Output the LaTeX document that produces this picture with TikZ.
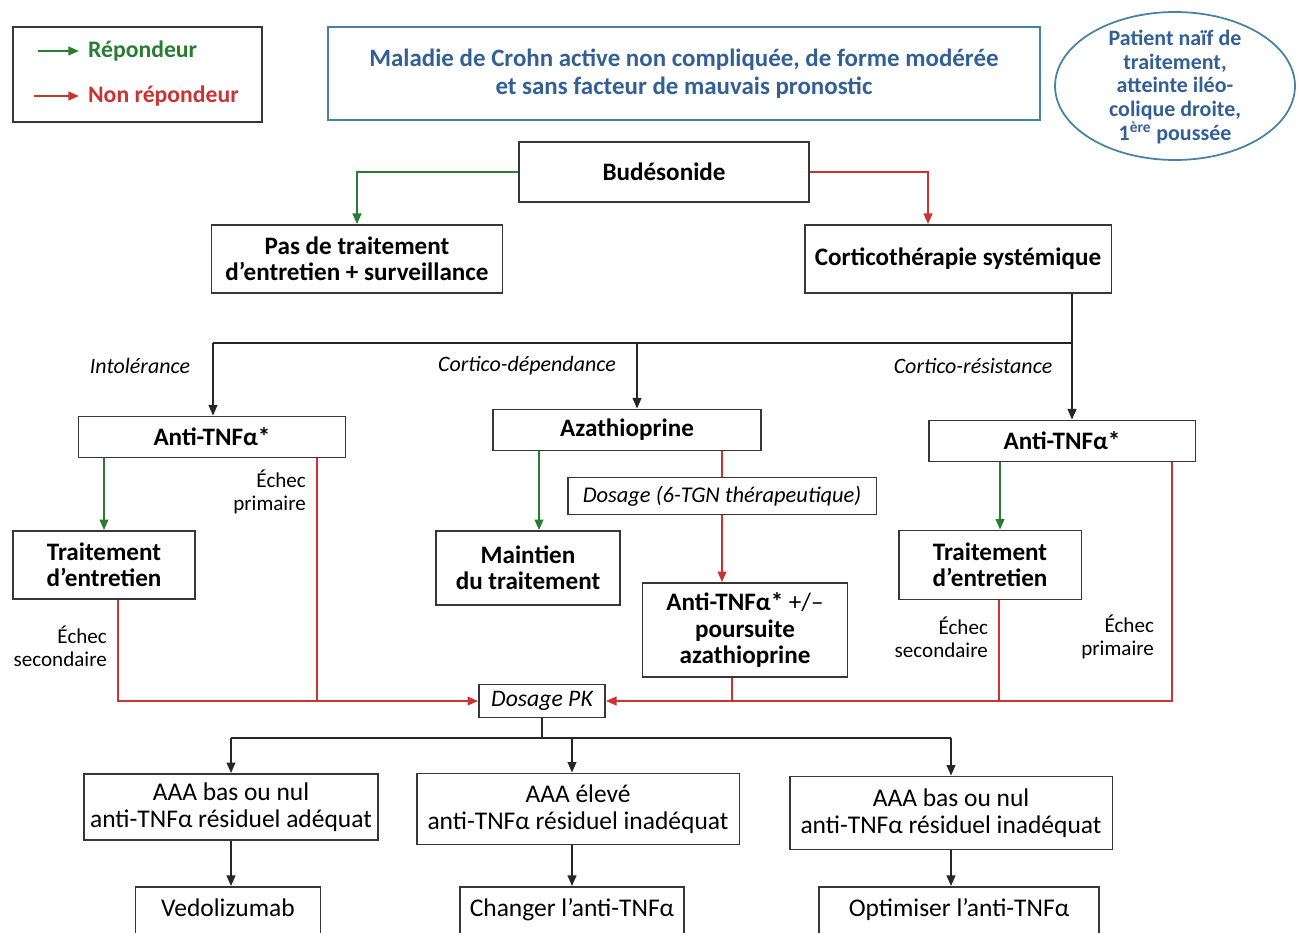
\documentclass[tikz,border=0pt]{standalone}
\usepackage{fontspec}
\setmainfont{Carlito}
\usetikzlibrary{arrows.meta, positioning, calc}
\definecolor{crohnblue}{RGB}{50, 95, 150}
\definecolor{frameblue}{RGB}{70, 130, 165}
\definecolor{repgreen}{RGB}{40, 125, 50}
\definecolor{nonred}{RGB}{205, 50, 50}
\definecolor{boxgray}{RGB}{55, 55, 55}

\begin{document}
\begin{tikzpicture}[x=0.02cm, y=-0.02cm,
  box/.style={draw=boxgray, line width=1.1pt, align=center, inner sep=1pt, font=\fontsize{14.3}{15}\selectfont\bfseries},
  plainbox/.style={draw=boxgray, line width=1.1pt, align=center, inner sep=1pt, font=\fontsize{14.5}{15.5}\selectfont},
  lab/.style={align=right, anchor=east, inner sep=1pt, font=\fontsize{12}{13}\selectfont},
  branch/.style={inner sep=1pt, font=\fontsize{12.5}{14}\selectfont\itshape},
  legtxt/.style={anchor=west, inner sep=1pt, font=\fontsize{13.5}{15}\selectfont\bfseries},
  arr/.style={-{Triangle[length=6pt,width=5pt]}},
  link/.style={black!85, line width=0.9pt},
  rep/.style={repgreen, line width=0.9pt, arr},
  nonline/.style={nonred, line width=0.9pt},
  nonrep/.style={nonline, arr}
]
\useasboundingbox (0,0) rectangle (1300,932);

% legende
\node[draw=boxgray, line width=1.1pt, minimum width=4.98cm, minimum height=1.9cm] (legend) at (137.5,74.5) {};
\node[legtxt, text=repgreen] (lrep) at (86,51) {Répondeur};
\node[legtxt, text=nonred] (lnon) at (86,96) {Non répondeur};
\coordinate (lg1) at (38,51);
\coordinate (lg2) at (34,96);
\draw[rep] (lg1) -- (lrep.west) [shorten >=4pt];
\draw[nonrep] (lg2) -- (lnon.west) [shorten >=4pt];

% titre
\node[draw=frameblue, line width=1pt, text=crohnblue, align=center, minimum width=14.24cm, minimum height=1.86cm,
      font=\fontsize{14.2}{16}\selectfont\bfseries] (title) at (684,73.5)
  {Maladie de Crohn active non compliquée, de forme modérée\\et sans facteur de mauvais pronostic};
\draw[frameblue, line width=1pt] (1175,86) ellipse [x radius=2.4cm, y radius=1.48cm];
\node[text=crohnblue, align=center, inner sep=0pt, font=\fontsize{12.5}{13.5}\selectfont\bfseries] (naive) at (1175,87)
  {Patient naïf de\\traitement,\\atteinte iléo-\\colique droite,\\1\textsuperscript{ère} poussée};

% premiere ligne
\node[box, minimum width=5.8cm, minimum height=1.2cm] (bud) at (664,172) {Budésonide};
\node[box, minimum width=5.82cm, minimum height=1.36cm] (pas) at (357,259) {Pas de traitement\\d’entretien + surveillance};
\node[box, minimum width=6.14cm, minimum height=1.36cm] (cort) at (958,259) {Corticothérapie systémique};
\draw[rep] (bud.west) -| (pas.north);
\draw[nonrep] (bud.east) -| ([xshift=-0.6cm]cort.north);

% trois branches
\node[box, minimum width=5.34cm, minimum height=0.82cm] (atnfL) at (212,437) {Anti-TNFα*};
\node[box, minimum width=5.36cm, minimum height=0.82cm] (aza) at (627,430) {Azathioprine};
\node[box, minimum width=5.34cm, minimum height=0.82cm] (atnfR) at (1062,441) {Anti-TNFα*};
\coordinate (c0) at (213,343);
\coordinate (c1) at (1072,343);
\coordinate (c2) at (637,343);
\draw[link] (cort.south -| c1) |- (c0);
\draw[link, arr] (c0) -- (c0 |- atnfL.north);
\draw[link, arr] (c2) -- (c2 |- aza.north);
\draw[link, arr] (c1) -- (c1 |- atnfR.north);
\node[branch] (intol) at (140,366) {Intolérance};
\node[branch] (dep) at (527,366) {Cortico-dépendance};
\node[branch] (res) at (973,366) {Cortico-résistance};

% gauche
\node[box, minimum width=3.64cm, minimum height=1.36cm] (entL) at (104,565) {Traitement\\d’entretien};
\draw[rep] (atnfL.south -| entL) -- (entL.north);
\coordinate (p1) at (317,701);
\coordinate (s1) at (118,701);
\node[plainbox, font=\fontsize{13.5}{15}\selectfont\itshape, minimum width=2.52cm, minimum height=0.66cm] (pk) at (542,701) {Dosage PK};
\draw[nonline] (atnfL.south -| p1) -- (p1);
\draw[nonrep] (entL.south -| s1) -- (s1) -- (pk.west);
\node[lab] (ep1) at (308,492) {Échec\\primaire};
\node[lab] (es1) at (109,646) {Échec\\secondaire};

% milieu
\node[box, minimum width=3.68cm, minimum height=1.48cm] (maint) at (528,568) {Maintien\\du traitement};
\node[plainbox, font=\fontsize{12.8}{14}\selectfont\itshape, minimum width=6.18cm, minimum height=0.74cm] (tgn) at (722,496) {Dosage (6-TGN thérapeutique)};
\node[box, minimum width=4.1cm, minimum height=1.88cm] (atnfM) at (745,630) {Anti-TNFα* \textmd{+/–}\\poursuite\\azathioprine};
\draw[rep] ([xshift=0.22cm]maint.north |- aza.south) -- ([xshift=0.22cm]maint.north);
\draw[nonline] (aza.south -| tgn) -- (tgn.north);
\draw[nonrep] (tgn.south) -- (tgn.south |- atnfM.north);
\coordinate (p2) at (732,701);
\draw[nonline] (atnfM.south -| p2) -- (p2);

% droite
\node[box, minimum width=3.66cm, minimum height=1.38cm] (entR) at (990,565) {Traitement\\d’entretien};
\draw[rep] ([xshift=0.2cm]entR.north |- atnfR.south) -- ([xshift=0.2cm]entR.north);
\coordinate (p3) at (999,701);
\coordinate (p4) at (1172,701);
\draw[nonline] (entR.south -| p3) -- (p3);
\draw[nonrep] (atnfR.south -| p4) -- (p4) -- (pk.east);
\node[lab] (es2) at (990,637) {Échec\\secondaire};
\node[lab] (ep2) at (1156,637) {Échec\\primaire};

% dosage PK
\node[plainbox, minimum width=5.88cm, minimum height=1.32cm] (aaa1) at (231,807) {AAA bas ou nul\\anti-TNFα résiduel adéquat};
\node[plainbox, minimum width=6.46cm, minimum height=1.42cm] (aaa2) at (578,809) {AAA élevé\\anti-TNFα résiduel inadéquat};
\node[plainbox, minimum width=6.46cm, minimum height=1.46cm] (aaa3) at (951,813) {AAA bas ou nul\\anti-TNFα résiduel inadéquat};
\coordinate (b0) at (542,738);
\coordinate (b2) at (572,738);
\draw[link] (pk.south) -- (b0);
\draw[link] (aaa1.north |- b0) -- (aaa3.north |- b0);
\draw[link, arr] (aaa1.north |- b0) -- (aaa1.north);
\draw[link, arr] (b2) -- (b2 |- aaa2.north);
\draw[link, arr] (aaa3.north |- b0) -- (aaa3.north);

\node[plainbox, anchor=north, minimum width=3.7cm, text height=14pt, text depth=0.75cm, inner ysep=0.1cm] (vedo) at (228,886) {Vedolizumab};
\node[plainbox, anchor=north, minimum width=4.48cm, text height=14pt, text depth=0.75cm, inner ysep=0.1cm] (chg) at (572,886) {Changer l’anti-TNFα};
\node[plainbox, anchor=north, minimum width=5.6cm, text height=14pt, text depth=0.75cm, inner ysep=0.1cm] (opt) at (959,886) {Optimiser l’anti-TNFα};
\draw[link, arr] (aaa1.south) -- (aaa1.south |- vedo.north);
\draw[link, arr] (aaa2.south -| chg) -- (chg.north);
\draw[link, arr] (aaa3.south) -- (aaa3.south |- opt.north);

\end{tikzpicture}
\end{document}
